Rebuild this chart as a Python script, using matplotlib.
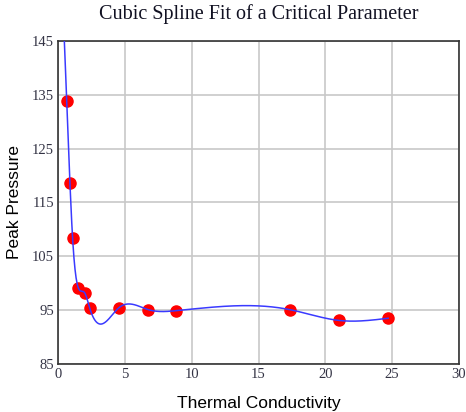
import matplotlib
matplotlib.use('Agg')
import matplotlib.pyplot as plt
import numpy as np

conductivity = [0.65, 0.89, 1.09, 1.51, 2.0, 2.37, 4.53, 6.75, 8.8, 17.34, 21.0, 24.7]
peak_pressure = [133.8, 118.7, 108.4, 99.2, 98.2, 95.4, 95.4, 95.1, 94.9, 95.1, 93.1, 93.5]

x_ticks = [0, 5, 10, 15, 20, 25, 30]
y_ticks = [85, 95, 105, 115, 125, 135, 145]


def natural_spline(x, y, xs):
    # plain natural cubic spline, solved with numpy
    x = np.asarray(x, float)
    y = np.asarray(y, float)
    n = len(x)
    h = np.diff(x)
    A = np.zeros((n, n))
    b = np.zeros(n)
    A[0, 0] = 1
    A[-1, -1] = 1
    for i in range(1, n - 1):
        A[i, i - 1] = h[i - 1]
        A[i, i] = 2 * (h[i - 1] + h[i])
        A[i, i + 1] = h[i]
        b[i] = 3 * ((y[i + 1] - y[i]) / h[i] - (y[i] - y[i - 1]) / h[i - 1])
    c = np.linalg.solve(A, b)
    bb = (y[1:] - y[:-1]) / h - h * (2 * c[:-1] + c[1:]) / 3
    d = (c[1:] - c[:-1]) / (3 * h)
    idx = np.clip(np.searchsorted(x, xs) - 1, 0, n - 2)
    dx = xs - x[idx]
    return y[idx] + bb[idx] * dx + c[idx] * dx ** 2 + d[idx] * dx ** 3


xs = np.linspace(0.42, conductivity[-1], 600)
ys = natural_spline(conductivity, peak_pressure, xs)

fig = plt.figure(figsize=(4.66, 4.12), dpi=100)
ax = fig.add_axes([0.1245, 0.1165, 0.8605, 0.784])

ax.plot(conductivity, peak_pressure, 'o', color='red', markersize=8, zorder=3)
ax.plot(xs, ys, color='#3a3aff', linewidth=1.1, zorder=4)

ax.set_xlim(0, 30)
ax.set_ylim(85, 145)
ax.set_xticks(x_ticks)
ax.set_yticks(y_ticks)
ax.grid(True, color='#c8c8c8', linewidth=1.2)
ax.set_axisbelow(True)
for s in ax.spines.values():
    s.set_color('#333333')
    s.set_linewidth(1.2)
ax.tick_params(length=0, pad=3, labelsize=10.5, labelcolor='#333344')
for lab in ax.get_xticklabels() + ax.get_yticklabels():
    lab.set_fontfamily('Liberation Serif')

ax.set_xlabel('Thermal Conductivity', fontsize=12.5, fontfamily='Liberation Sans', labelpad=11)
ax.set_ylabel('Peak Pressure', fontsize=12.5, fontfamily='Liberation Sans', labelpad=7)
fig.suptitle('Cubic Spline Fit of a Critical Parameter', x=0.556, y=0.99,
             fontsize=14.5, fontfamily='Liberation Serif', color='#111122')

fig.savefig('out.png', dpi=100)
